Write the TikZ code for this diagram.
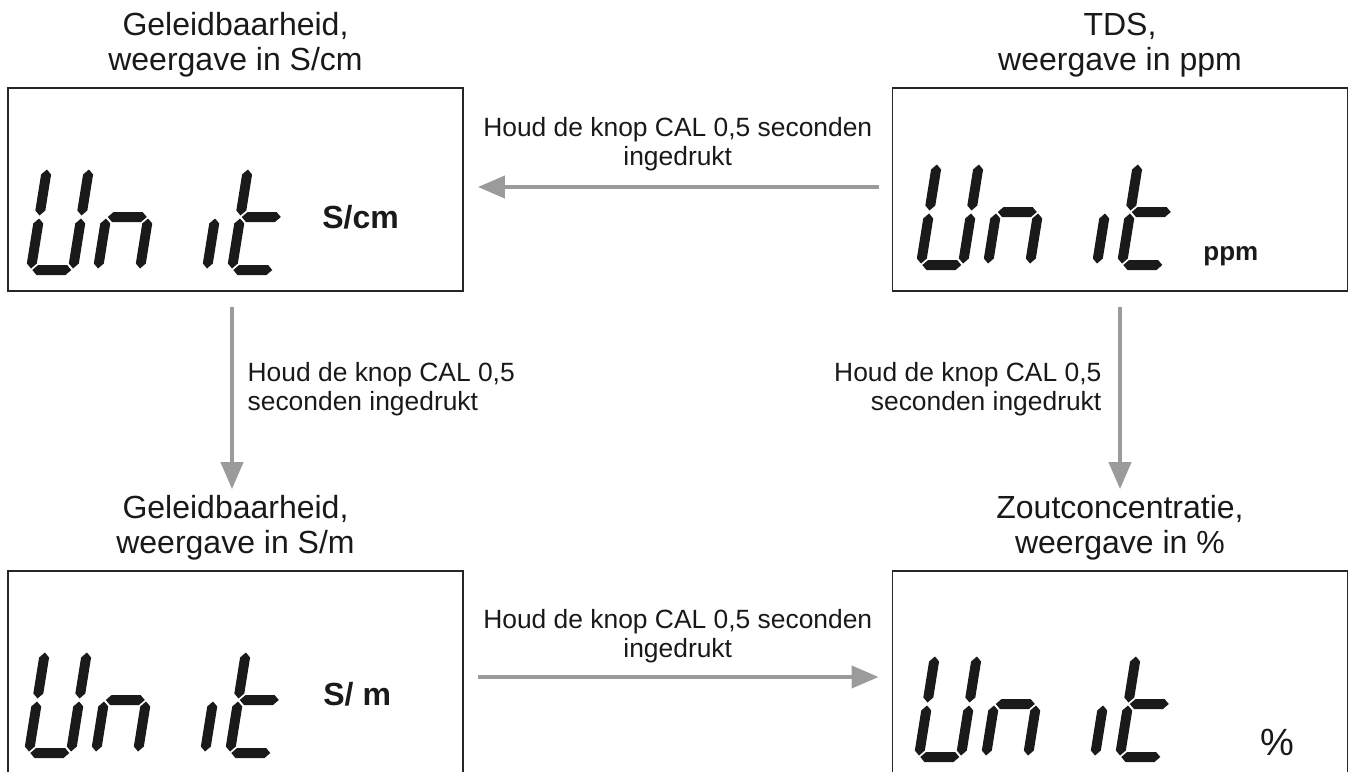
\documentclass[tikz,border=0pt]{standalone}
\usepackage{fontspec}
\setmainfont{Liberation Sans}
\usetikzlibrary{positioning,arrows.meta}

\definecolor{arrowgray}{HTML}{9B9B9B}
\definecolor{lcdblack}{HTML}{1A1A1A}

% LCD segments (local units, y up)
\newcommand{\hseg}[3]{\fill (#1,#3) -- (#1+5,#3+5) -- (#2-5,#3+5) -- (#2,#3) -- (#2-5,#3-5) -- (#1+5,#3-5) -- cycle;}
\newcommand{\vseg}[3]{\fill (#1,#2) -- (#1+5,#2+5) -- (#1+5,#3-5) -- (#1,#3) -- (#1-5,#3-5) -- (#1-5,#2+5) -- cycle;}
\newcommand{\segA}{\hseg{6.5}{45.5}{107}}
\newcommand{\segB}{\vseg{47}{59.5}{105.5}}
\newcommand{\segC}{\vseg{47}{6.5}{56.5}}
\newcommand{\segD}{\hseg{6.5}{45.5}{5}}
\newcommand{\segE}{\vseg{5}{6.5}{56.5}}
\newcommand{\segF}{\vseg{5}{59.5}{105.5}}
\newcommand{\segG}{\hseg{6.5}{45.5}{58}}
\newcommand{\lcddigit}[3]{%
  \begin{scope}[shift={(#1,#2)},x=0.5pt,y=0.5pt,xslant=0.16,lcdblack]
    \foreach \s in {#3}{\csname seg\s\endcsname}
  \end{scope}}
\newcommand{\lcdunit}[2]{%
  \lcddigit{#1}{#2}{B,C,D,E,F}%
  \lcddigit{#1+67}{#2}{C,E,G}%
  \lcddigit{#1+134}{#2}{C}%
  \lcddigit{#1+201}{#2}{D,E,F,G}}

\begin{document}
\begin{tikzpicture}[x=0.5pt, y=-0.5pt,
    lcdbox/.style={draw=black!85, line width=0.9pt, minimum width=227.5pt, minimum height=101.5pt, inner sep=0pt},
    heading/.style={align=center, text=black!90, font=\fontsize{16pt}{17.5pt}\selectfont},
    hint/.style={align=center, text=black!90, font=\fontsize{13.2pt}{14.5pt}\selectfont},
    flow/.style={draw=arrowgray, line width=2pt, -{Triangle[length=13.5pt,width=11pt]}},
    unitlbl/.style={inner sep=0pt, anchor=base west, text=lcdblack, font=\bfseries\fontsize{16pt}{16pt}\selectfont}]
  \useasboundingbox (0,0) rectangle (1351,772);
  \clip (0,0) rectangle (1351,772);

  % Nodes
  \node[lcdbox] (Display1) at (235.5,189.5) {};
  \node[lcdbox] (Display2) at (1120,189.5) {};
  \node[lcdbox] (Display3) at (235.5,672.5) {};
  \node[lcdbox] (Display4) at (1120,672.5) {};

  \node[heading, above=1.5pt of Display1] (Title1) {Geleidbaarheid,\\weergave in S/cm};
  \node[heading, above=1.5pt of Display2] (Title2) {TDS,\\weergave in ppm};
  \node[heading, above=1.5pt of Display3] (Title3) {Geleidbaarheid,\\weergave in S/m};
  \node[heading, above=1.5pt of Display4] (Title4) {Zoutconcentratie,\\weergave in \%};

  % LCD text
  \lcdunit{25}{275}
  \lcdunit{915}{270}
  \lcdunit{23}{758}
  \lcdunit{913}{762}

  \node[unitlbl] (Unit1) at (322,228) {S/cm};
  \node[unitlbl, font=\bfseries\fontsize{13pt}{13pt}\selectfont] (Unit2) at (1203,260) {ppm};
  \node[unitlbl] (Unit3) at (323,705) {S/ m};
  \node[unitlbl, font=\fontsize{19pt}{19pt}\selectfont] (Unit4) at (1260,755) {\%};

  % Edges
  \draw[flow, shorten <=6.5pt, shorten >=7pt] ([yshift=1.25pt]Display2.west) -- ([yshift=1.25pt]Display1.east)
    node[hint, midway, above=3.5pt] (Hint1) {Houd de knop CAL 0,5 seconden\\ingedrukt};
  \draw[flow, shorten <=7.5pt, shorten >=40.5pt] ([xshift=-1.75pt]Display1.south) -- ([xshift=-1.75pt]Display3.north)
    node[hint, align=left, pos=0.35, right=3.5pt] (Hint2) {Houd de knop CAL 0,5\\seconden ingedrukt};
  \draw[flow, shorten <=7.5pt, shorten >=40.5pt] (Display2.south) -- (Display4.north)
    node[hint, align=right, pos=0.35, left=5pt] (Hint3) {Houd de knop CAL 0,5\\seconden ingedrukt};
  \draw[flow, shorten <=7pt, shorten >=6.5pt] ([yshift=-2.25pt]Display3.east) -- ([yshift=-2.25pt]Display4.west)
    node[hint, midway, above=2.5pt] (Hint4) {Houd de knop CAL 0,5 seconden\\ingedrukt};
\end{tikzpicture}
\end{document}
